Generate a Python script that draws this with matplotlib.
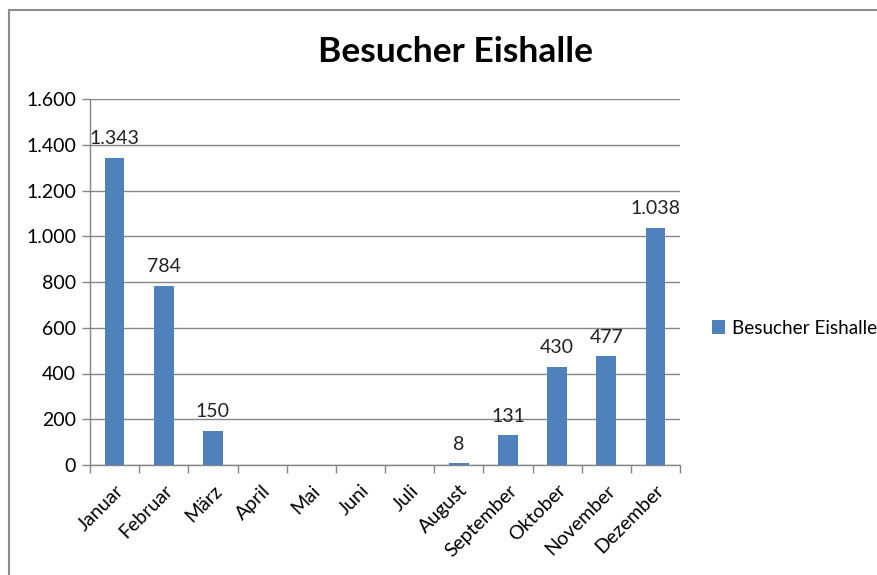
import numpy as np
import matplotlib.pyplot as plt
from matplotlib.lines import Line2D

# Daten
monate = ['Januar', 'Februar', 'März', 'April', 'Mai', 'Juni', 'Juli',
          'August', 'September', 'Oktober', 'November', 'Dezember']
besucher = [1343, 784, 150, None, None, None, None, 8, 131, 430, 477, 1038]
y_ticks = [0, 200, 400, 600, 800, 1000, 1200, 1400, 1600]

blau = '#4F81BD'
grau = '#868686'
fs = 14

plt.rcParams['font.family'] = ['Lato', 'DejaVu Sans']

def de_format(v):
    return f'{v:,.0f}'.replace(',', '.')

fig = plt.figure(figsize=(8.77, 5.75), dpi=100)
ax = fig.add_axes([90 / 877, 1 - 465 / 575, 590 / 877, 366 / 575])

x = np.arange(len(monate))
werte = np.array([np.nan if v is None else v for v in besucher], dtype=float)
bars = ax.bar(x, np.nan_to_num(werte), width=0.4, color=blau, label='Besucher Eishalle', zorder=3)

# Datenbeschriftungen
for xi, v in zip(x, besucher):
    if v is not None:
        ax.text(xi, v + 45, de_format(v), ha='center', va='bottom', fontsize=fs, color='#222222')

ax.set_xlim(-0.5, len(monate) - 0.5)
ax.set_ylim(0, 1600)
ax.set_yticks(y_ticks)
ax.set_yticklabels([de_format(v) for v in y_ticks], fontsize=fs)
ax.yaxis.grid(True, color=grau, linewidth=1, zorder=0)

# Kategoriegrenzen als Teilstriche, Beschriftung in der Mitte
ax.set_xticks(np.arange(-0.5, len(monate), 1))
ax.set_xticklabels([])
ax.set_xticks(x, minor=True)
ax.set_xticklabels(monate, minor=True, rotation=45, ha='right', rotation_mode='anchor', fontsize=fs)
ax.tick_params(axis='x', which='major', length=6, color=grau, width=1)
ax.tick_params(axis='x', which='minor', length=0, pad=12)
ax.tick_params(axis='y', length=6, color=grau, width=1, pad=4)

for s in ['top', 'right']:
    ax.spines[s].set_visible(False)
for s in ['left', 'bottom']:
    ax.spines[s].set_color(grau)
    ax.spines[s].set_linewidth(1)

fig.text(455 / 877, 1 - 52 / 575, 'Besucher Eishalle', ha='center', va='center',
         fontsize=25.5, fontweight='bold')

fig.legend(handles=[bars], labels=['Besucher Eishalle'], loc='center left',
           bbox_to_anchor=(712 / 877, 1 - 328 / 575), frameon=False, fontsize=13.6,
           handlelength=0.7, handleheight=0.7, handletextpad=0.35,
           borderpad=0, borderaxespad=0)

# Rahmen des Diagrammbereichs
fig.add_artist(Line2D([8.5 / 877, 8.5 / 877], [0, 1 - 9.5 / 575], transform=fig.transFigure,
                      color='#8c8c8c', linewidth=1.5))
fig.add_artist(Line2D([8.5 / 877, 1], [1 - 9.5 / 575, 1 - 9.5 / 575], transform=fig.transFigure,
                      color='#8c8c8c', linewidth=1.5))

fig.savefig('out.png', dpi=100)
